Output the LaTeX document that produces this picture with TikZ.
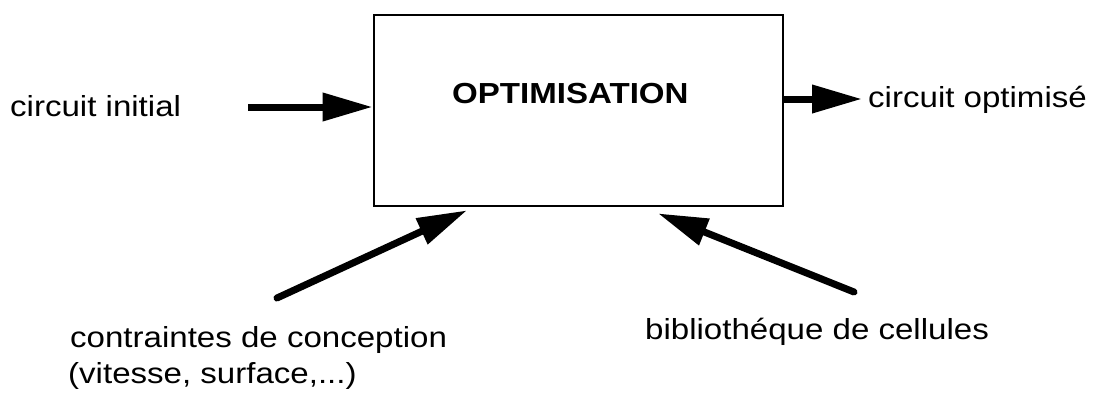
\documentclass[tikz,border=0pt]{standalone}
\usepackage{fontspec}
\setmainfont{Liberation Sans}[FakeStretch=1.14]
\usetikzlibrary{arrows.meta}
\begin{document}
\begin{tikzpicture}[x=1pt,y=-1pt,
  lbl/.style={anchor=base west,inner sep=0pt,font=\fontsize{29}{35}\selectfont},
  bigarrow/.style={line width=7pt,-{Triangle[length=50pt,width=27pt]}},
  procbox/.style={draw,line width=2.8pt,minimum width=409pt,minimum height=191pt,inner sep=0pt}]
\useasboundingbox (0,0) rectangle (1095,394);
\node[procbox] (box) at (578.5,110.5) {};
\node[lbl,font=\fontsize{29}{35}\selectfont\bfseries] (title) at (452,103) {OPTIMISATION};
\node[lbl] (inlbl) at (10,116) {circuit initial};
\node[lbl] (outlbl) at (868,107) {circuit optimisé};
\node[lbl] (conlbl) at (70,347) {contraintes de conception};
\node[lbl] (conlbl2) at (68,383) {(vitesse, surface,...)};
\node[lbl] (biblbl) at (645,339) {bibliothéque de cellules};
\coordinate (inT) at (248,107);
\coordinate (outT) at (862,99);
\coordinate (conT) at (277,298);
\coordinate (bibT) at (854,292);
\draw[bigarrow] (inT) -- (inT -| box.west);
\draw[bigarrow] (outT -| box.east) -- (outT);
\draw[bigarrow,line cap=round] (conT) -- ([xshift=-111.5pt,yshift=-3pt]box.south);
\draw[bigarrow,line cap=round] (bibT) -- ([xshift=79.5pt,yshift=-6pt]box.south);
\end{tikzpicture}
\end{document}
